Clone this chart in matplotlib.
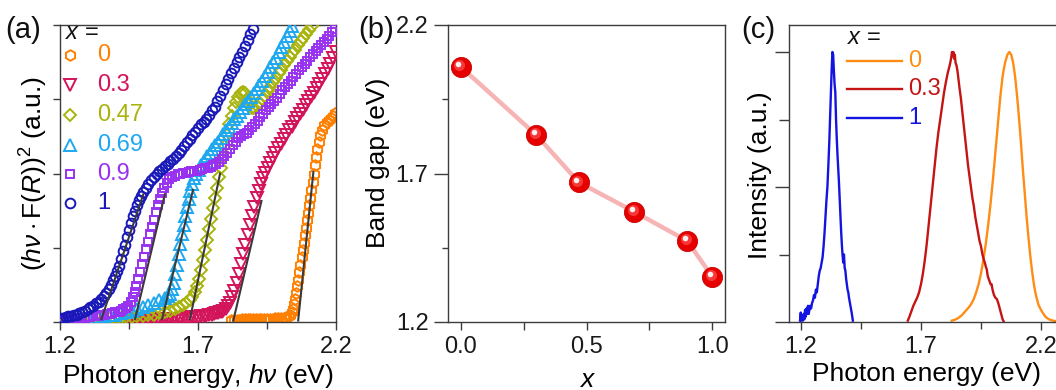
import matplotlib
matplotlib.use('Agg')
import matplotlib.pyplot as plt
from matplotlib.transforms import offset_copy

plt.rcParams['font.family'] = ['Liberation Sans', 'DejaVu Sans']
plt.rcParams['mathtext.fontset'] = 'custom'
plt.rcParams['mathtext.rm'] = 'Liberation Sans'
plt.rcParams['mathtext.it'] = 'Liberation Sans:italic'

# ---------------- Panel (a) data: (h nu F(R))^2 vs photon energy ----------------
x_labels = ['0', '0.3', '0.47', '0.69', '0.9', '1']

E_x0 = [1.820, 1.830, 1.840, 1.850, 1.860, 1.870, 1.880, 1.890, 1.900, 1.910, 1.920, 1.930,
        1.940, 1.950, 1.960, 1.970, 1.980, 1.990, 2.000, 2.010, 2.020, 2.028, 2.034, 2.039,
        2.043, 2.047, 2.051, 2.055, 2.059, 2.063, 2.067, 2.071, 2.075, 2.079, 2.083, 2.087,
        2.091, 2.095, 2.099, 2.103, 2.107, 2.111, 2.115, 2.119, 2.123, 2.127, 2.132, 2.137,
        2.143, 2.150, 2.158, 2.166, 2.174, 2.182, 2.190, 2.198]
A_x0 = [0.03, 0.03, 0.03, 0.03, 0.035, 0.035, 0.035, 0.035, 0.04, 0.04, 0.04, 0.04,
        0.04, 0.045, 0.045, 0.045, 0.05, 0.05, 0.055, 0.06, 0.07, 0.08, 0.10, 0.13,
        0.18, 0.24, 0.31, 0.39, 0.48, 0.57, 0.67, 0.77, 0.87, 0.97, 1.07, 1.17,
        1.27, 1.37, 1.47, 1.57, 1.67, 1.78, 1.89, 2.00, 2.11, 2.22, 2.33, 2.43,
        2.52, 2.59, 2.65, 2.69, 2.72, 2.75, 2.78, 2.82]

E_x03 = [1.450, 1.460, 1.470, 1.480, 1.490, 1.500, 1.510, 1.520, 1.530, 1.540, 1.550, 1.560,
         1.570, 1.580, 1.590, 1.600, 1.610, 1.620, 1.630, 1.640, 1.650, 1.660, 1.670, 1.680,
         1.690, 1.700, 1.710, 1.720, 1.730, 1.740, 1.750, 1.758, 1.765, 1.772, 1.780, 1.786,
         1.792, 1.800, 1.808, 1.816, 1.824, 1.832, 1.840, 1.848, 1.856, 1.864, 1.872, 1.880,
         1.888, 1.896, 1.904, 1.912, 1.920, 1.928, 1.936, 1.944, 1.952, 1.960, 1.970, 1.980,
         1.990, 2.000, 2.010, 2.020, 2.030, 2.040, 2.050, 2.060, 2.070, 2.080, 2.090, 2.100,
         2.110, 2.120, 2.130, 2.140, 2.150, 2.160, 2.170, 2.180, 2.190, 2.200]
A_x03 = [0.02, 0.02, 0.02, 0.022, 0.025, 0.025, 0.025, 0.027, 0.03, 0.03, 0.03, 0.032,
         0.035, 0.037, 0.04, 0.04, 0.04, 0.042, 0.045, 0.047, 0.05, 0.055, 0.06, 0.062,
         0.065, 0.07, 0.075, 0.08, 0.085, 0.09, 0.10, 0.107, 0.115, 0.122, 0.13, 0.14,
         0.15, 0.17, 0.21, 0.26, 0.33, 0.42, 0.53, 0.65, 0.78, 0.91, 1.04, 1.17,
         1.30, 1.43, 1.55, 1.67, 1.77, 1.86, 1.94, 2.01, 2.08, 2.14, 2.21, 2.28,
         2.34, 2.40, 2.46, 2.52, 2.58, 2.63, 2.69, 2.75, 2.80, 2.86, 2.92, 2.97,
         3.03, 3.09, 3.15, 3.21, 3.27, 3.34, 3.41, 3.48, 3.56, 3.64]

E_x047 = [1.200, 1.220, 1.240, 1.260, 1.280, 1.300, 1.320, 1.340, 1.360, 1.380, 1.400, 1.420,
          1.440, 1.460, 1.480, 1.500, 1.520, 1.540, 1.560, 1.580, 1.600, 1.615, 1.630, 1.645,
          1.658, 1.670, 1.680, 1.690, 1.698, 1.705, 1.712, 1.719, 1.726, 1.733, 1.740, 1.747,
          1.754, 1.761, 1.768, 1.775, 1.782, 1.790, 1.798, 1.806, 1.814, 1.822, 1.830, 1.838,
          1.846, 1.854, 1.862, 1.870, 1.878, 1.886, 1.894, 1.902, 1.912, 1.922, 1.932, 1.942,
          1.952, 1.962, 1.972, 1.982, 1.992, 2.002, 2.012, 2.022, 2.032, 2.042, 2.052, 2.062,
          2.072, 2.082, 2.092, 2.102, 2.112]
A_x047 = [0.01, 0.015, 0.02, 0.025, 0.03, 0.035, 0.04, 0.045, 0.05, 0.05, 0.055, 0.06,
          0.065, 0.07, 0.08, 0.085, 0.09, 0.10, 0.12, 0.135, 0.15, 0.17, 0.20, 0.23,
          0.26, 0.30, 0.34, 0.40, 0.48, 0.58, 0.70, 0.83, 0.97, 1.11, 1.25, 1.39,
          1.53, 1.67, 1.81, 1.95, 2.08, 2.22, 2.37, 2.52, 2.66, 2.78, 2.88, 2.96,
          3.03, 3.08, 3.10, 3.08, 3.00, 2.92, 2.88, 2.88, 2.91, 2.95, 3.00, 3.05,
          3.11, 3.17, 3.23, 3.29, 3.35, 3.40, 3.46, 3.52, 3.57, 3.62, 3.67, 3.73,
          3.78, 3.83, 3.88, 3.93, 3.98]

E_x069 = [1.200, 1.220, 1.240, 1.260, 1.280, 1.300, 1.320, 1.340, 1.360, 1.380, 1.400, 1.420,
          1.440, 1.460, 1.480, 1.500, 1.520, 1.540, 1.560, 1.580, 1.593, 1.600, 1.606, 1.612,
          1.618, 1.624, 1.630, 1.636, 1.642, 1.648, 1.654, 1.660, 1.666, 1.672, 1.678, 1.685,
          1.693, 1.702, 1.712, 1.722, 1.732, 1.742, 1.752, 1.762, 1.772, 1.782, 1.792, 1.802,
          1.812, 1.822, 1.832, 1.842, 1.852, 1.862, 1.872, 1.882, 1.892, 1.902, 1.912, 1.922,
          1.932, 1.942, 1.952, 1.962, 1.972, 1.982, 1.992, 2.002, 2.012, 2.022, 2.032, 2.040]
A_x069 = [0.03, 0.035, 0.04, 0.045, 0.05, 0.06, 0.065, 0.07, 0.08, 0.09, 0.10, 0.115,
          0.13, 0.15, 0.17, 0.20, 0.23, 0.26, 0.29, 0.32, 0.35, 0.38, 0.44, 0.53,
          0.64, 0.77, 0.91, 1.05, 1.18, 1.31, 1.43, 1.55, 1.66, 1.77, 1.86, 1.94,
          2.00, 2.05, 2.11, 2.17, 2.23, 2.28, 2.33, 2.38, 2.43, 2.48, 2.53, 2.58,
          2.63, 2.68, 2.73, 2.78, 2.83, 2.88, 2.93, 2.98, 3.03, 3.08, 3.14, 3.19,
          3.25, 3.31, 3.37, 3.43, 3.50, 3.56, 3.63, 3.70, 3.77, 3.85, 3.92, 3.99]

E_x09 = [1.200, 1.210, 1.220, 1.230, 1.240, 1.250, 1.260, 1.270, 1.280, 1.290, 1.300, 1.310,
         1.320, 1.330, 1.340, 1.350, 1.360, 1.370, 1.380, 1.390, 1.400, 1.410, 1.420, 1.430,
         1.440, 1.448, 1.456, 1.463, 1.470, 1.477, 1.484, 1.491, 1.498, 1.505, 1.512, 1.519,
         1.526, 1.533, 1.540, 1.547, 1.554, 1.561, 1.569, 1.577, 1.586, 1.596, 1.606, 1.616,
         1.626, 1.636, 1.646, 1.656, 1.666, 1.676, 1.686, 1.696, 1.706, 1.716, 1.726, 1.736,
         1.746, 1.756, 1.766, 1.776, 1.786, 1.796, 1.806, 1.816, 1.826, 1.836, 1.846, 1.856,
         1.866, 1.876, 1.886, 1.896, 1.906, 1.916, 1.926, 1.936, 1.946, 1.956, 1.966, 1.976,
         1.986, 1.996, 2.006, 2.016, 2.026, 2.036, 2.046, 2.056, 2.066, 2.076, 2.086, 2.096,
         2.106, 2.116, 2.126, 2.136, 2.146, 2.156, 2.166, 2.176, 2.186, 2.196]
A_x09 = [0.02, 0.025, 0.03, 0.035, 0.04, 0.045, 0.05, 0.05, 0.055, 0.06, 0.065, 0.07,
         0.075, 0.08, 0.085, 0.09, 0.10, 0.105, 0.11, 0.12, 0.13, 0.14, 0.15, 0.17,
         0.19, 0.22, 0.27, 0.33, 0.40, 0.49, 0.58, 0.68, 0.78, 0.88, 0.98, 1.08,
         1.18, 1.28, 1.38, 1.48, 1.57, 1.66, 1.74, 1.81, 1.87, 1.92, 1.95, 1.97,
         1.99, 2.00, 2.01, 2.01, 2.02, 2.03, 2.03, 2.04, 2.05, 2.06, 2.07, 2.08,
         2.09, 2.11, 2.13, 2.16, 2.20, 2.24, 2.28, 2.33, 2.38, 2.43, 2.48, 2.51,
         2.53, 2.55, 2.58, 2.62, 2.66, 2.71, 2.76, 2.80, 2.85, 2.89, 2.94, 2.98,
         3.02, 3.07, 3.12, 3.16, 3.21, 3.25, 3.30, 3.34, 3.39, 3.43, 3.48, 3.52,
         3.57, 3.61, 3.65, 3.69, 3.73, 3.77, 3.81, 3.85, 3.90, 3.95]

E_x1 = [1.200, 1.210, 1.220, 1.230, 1.240, 1.250, 1.260, 1.270, 1.280, 1.290, 1.300, 1.310,
        1.320, 1.330, 1.340, 1.350, 1.360, 1.368, 1.376, 1.384, 1.392, 1.400, 1.407, 1.414,
        1.421, 1.428, 1.435, 1.442, 1.449, 1.456, 1.463, 1.470, 1.478, 1.486, 1.494, 1.502,
        1.511, 1.520, 1.530, 1.540, 1.550, 1.560, 1.570, 1.580, 1.590, 1.600, 1.610, 1.620,
        1.630, 1.640, 1.650, 1.660, 1.670, 1.680, 1.690, 1.700, 1.710, 1.720, 1.730, 1.740,
        1.750, 1.760, 1.770, 1.780, 1.790, 1.800, 1.810, 1.820, 1.830, 1.840, 1.850, 1.860,
        1.870, 1.880, 1.890, 1.900]
A_x1 = [0.05, 0.06, 0.07, 0.08, 0.085, 0.09, 0.10, 0.12, 0.13, 0.15, 0.17, 0.20,
        0.22, 0.25, 0.27, 0.31, 0.35, 0.39, 0.44, 0.50, 0.56, 0.62, 0.69, 0.76,
        0.85, 0.95, 1.04, 1.14, 1.24, 1.34, 1.43, 1.50, 1.57, 1.64, 1.70, 1.75,
        1.80, 1.86, 1.91, 1.95, 1.99, 2.03, 2.06, 2.10, 2.13, 2.17, 2.20, 2.24,
        2.28, 2.32, 2.37, 2.42, 2.47, 2.52, 2.56, 2.61, 2.66, 2.70, 2.74, 2.79,
        2.85, 2.90, 2.97, 3.04, 3.12, 3.20, 3.27, 3.35, 3.42, 3.50, 3.57, 3.64,
        3.72, 3.80, 3.88, 3.95]

# linear fits (extrapolated to the energy axis)
fit_E_low = [2.063, 1.828, 1.671, 1.570, 1.472, 1.350]
fit_A_low = [0.02, 0.02, 0.04, 0.04, 0.04, 0.04]
fit_E_high = [2.118, 1.930, 1.780, 1.682, 1.580, 1.502]
fit_A_high = [2.02, 1.63, 2.00, 1.78, 1.72, 1.72]

# ---------------- Panel (b) data: band gap vs x ----------------
x_comp = [0.0, 0.3, 0.47, 0.69, 0.9, 1.0]
band_gap = [2.06, 1.83, 1.67, 1.571, 1.473, 1.352]

# ---------------- Panel (c) data: PL spectra ----------------
pl_labels = ['0', '0.3', '1']
pl_E_x0 = [1.828, 1.840, 1.850, 1.860, 1.870, 1.880, 1.890, 1.900, 1.910, 1.920, 1.930, 1.940,
           1.950, 1.960, 1.970, 1.980, 1.990, 2.000, 2.010, 2.020, 2.030, 2.040, 2.050, 2.060,
           2.068, 2.076, 2.084, 2.092, 2.100, 2.108, 2.116, 2.124, 2.132, 2.140, 2.148, 2.156,
           2.164, 2.172, 2.180, 2.190, 2.200, 2.210, 2.220, 2.235, 2.250, 2.265]
pl_I_x0 = [0.005, 0.008, 0.012, 0.018, 0.025, 0.035, 0.045, 0.055, 0.068, 0.085, 0.11, 0.14,
           0.18, 0.23, 0.29, 0.36, 0.44, 0.53, 0.63, 0.73, 0.83, 0.91, 0.96, 0.99,
           1.00, 0.99, 0.96, 0.91, 0.84, 0.76, 0.67, 0.57, 0.48, 0.39, 0.31, 0.24,
           0.18, 0.13, 0.095, 0.062, 0.045, 0.03, 0.018, 0.009, 0.005, 0.003]

pl_E_x03 = [1.645, 1.652, 1.660, 1.668, 1.676, 1.684, 1.692, 1.700, 1.708, 1.716, 1.724, 1.732,
            1.740, 1.748, 1.756, 1.764, 1.772, 1.780, 1.788, 1.796, 1.804, 1.812, 1.818, 1.822,
            1.826, 1.829, 1.832, 1.835, 1.838, 1.841, 1.844, 1.848, 1.852, 1.856, 1.860, 1.866,
            1.872, 1.878, 1.884, 1.890, 1.896, 1.902, 1.908, 1.914, 1.920, 1.926, 1.932, 1.938,
            1.944, 1.950, 1.956, 1.962, 1.966, 1.970, 1.974, 1.978, 1.982, 1.986, 1.990, 1.994,
            1.998, 2.004, 2.010, 2.016, 2.022, 2.028, 2.034, 2.040, 2.044]
pl_I_x03 = [0.005, 0.02, 0.04, 0.06, 0.075, 0.09, 0.11, 0.14, 0.18, 0.23, 0.29, 0.36,
            0.43, 0.50, 0.57, 0.64, 0.70, 0.75, 0.80, 0.85, 0.89, 0.925, 0.945, 0.96,
            0.98, 1.00, 0.985, 1.00, 0.975, 0.99, 0.96, 0.95, 0.93, 0.90, 0.87, 0.83,
            0.78, 0.73, 0.68, 0.63, 0.58, 0.54, 0.50, 0.46, 0.43, 0.39, 0.36, 0.33,
            0.30, 0.28, 0.25, 0.23, 0.22, 0.205, 0.195, 0.17, 0.16, 0.15, 0.14, 0.14,
            0.12, 0.10, 0.09, 0.085, 0.07, 0.05, 0.03, 0.01, 0.003]

pl_E_x1 = [1.196, 1.199, 1.201, 1.205, 1.208, 1.211, 1.214, 1.217, 1.220, 1.223, 1.226, 1.229,
           1.232, 1.235, 1.238, 1.242, 1.246, 1.250, 1.254, 1.258, 1.262, 1.266, 1.270, 1.274,
           1.278, 1.282, 1.286, 1.290, 1.294, 1.298, 1.302, 1.306, 1.310, 1.314, 1.318, 1.322,
           1.325, 1.328, 1.331, 1.334, 1.337, 1.340, 1.343, 1.346, 1.349, 1.352, 1.355, 1.358,
           1.361, 1.364, 1.367, 1.370, 1.373, 1.376, 1.379, 1.382, 1.385, 1.388, 1.391, 1.394,
           1.397, 1.400, 1.404, 1.408, 1.412, 1.416]
pl_I_x1 = [0.005, 0.035, 0.005, 0.01, 0.005, 0.03, 0.01, 0.045, 0.02, 0.05, 0.03, 0.06,
           0.03, 0.045, 0.06, 0.05, 0.07, 0.08, 0.10, 0.09, 0.12, 0.11, 0.14, 0.17,
           0.19, 0.20, 0.22, 0.24, 0.28, 0.33, 0.39, 0.45, 0.50, 0.58, 0.67, 0.78,
           0.86, 0.94, 1.00, 0.99, 0.93, 0.88, 0.85, 0.75, 0.68, 0.62, 0.57, 0.52,
           0.46, 0.40, 0.34, 0.29, 0.25, 0.22, 0.25, 0.20, 0.19, 0.16, 0.14, 0.12,
           0.11, 0.09, 0.07, 0.05, 0.03, 0.005]

# ---------------- styling ----------------
W, H = 1056, 390
col_a = ['#FF8000', '#D3145A', '#A8B40C', '#1EA8F0', '#9932F0', '#1818B8']
mk_a = ['h', 'v', 'D', '^', 's', 'o']
ms_a = [7.6, 8.2, 6.6, 8.2, 6.4, 7.0]
col_c = ['#FF8C14', '#C41414', '#1414E0']
spine_col = '#3C3C3C'
TICK_FS = 17
LAB_FS = 19
LEG_FS = 17

fig = plt.figure(figsize=(W / 100, H / 100), dpi=100)
axA = fig.add_axes([60 / W, 68 / H, 276 / W, 297 / H])
axB = fig.add_axes([448 / W, 68 / H, 277 / W, 297 / H])
axC = fig.add_axes([789 / W, 68 / H, 288 / W, 297 / H])

for ax in (axA, axB, axC):
    for s in ax.spines.values():
        s.set_color(spine_col)
        s.set_linewidth(1.0)
    ax.tick_params(which='both', direction='out', color=spine_col, width=1.0,
                   labelsize=TICK_FS, labelcolor='#1a1a1a', pad=4)

# ---- panel (a)
series_E = [E_x0, E_x03, E_x047, E_x069, E_x09, E_x1]
series_A = [A_x0, A_x03, A_x047, A_x069, A_x09, A_x1]
for i in range(6):
    axA.plot(series_E[i], series_A[i], linestyle='none', marker=mk_a[i], ms=ms_a[i],
             mfc='none', mec=col_a[i], mew=1.4, zorder=2 + i)
for i in range(6):
    axA.plot([fit_E_low[i], fit_E_high[i]], [fit_A_low[i], fit_A_high[i]],
             color='#3a3a3a', lw=1.5, zorder=10)
axA.set_xlim(1.2, 2.2)
axA.set_ylim(0, 4)
axA.set_xticks([1.2, 1.7, 2.2])
axA.set_xticklabels(['1.2', '1.7', '2.2'])
axA.set_xticks([1.45, 1.95], minor=True)
axA.set_yticks([0, 1, 2, 3, 4])
axA.set_yticklabels([])
axA.tick_params(axis='x', which='major', length=6)
axA.tick_params(axis='x', which='minor', length=5)
axA.tick_params(axis='y', which='major', length=5)
axA.set_xlabel(r'Photon energy, $h\nu$ (eV)', fontsize=LAB_FS)
axA.xaxis.set_label_coords(0.5, -0.135)
axA.set_ylabel(r'$(h\nu\cdot$F($R$))$^2$ (a.u.)', fontsize=LAB_FS)
axA.yaxis.set_label_coords(-0.036, 0.5)

# legend (a)
axA.text(0.018, 0.972, r'$x$ =', transform=axA.transAxes, fontsize=LEG_FS,
         ha='left', va='center', color='#111111')
leg_y = [0.898, 0.799, 0.697, 0.596, 0.500, 0.400]
for i in range(6):
    axA.plot([0.038], [leg_y[i]], transform=axA.transAxes, linestyle='none',
             marker=mk_a[i], ms=ms_a[i], mfc='none', mec=col_a[i], mew=1.4, clip_on=False)
    axA.text(0.134, leg_y[i], x_labels[i], transform=axA.transAxes, fontsize=LEG_FS,
             color=col_a[i], ha='left', va='center')

# ---- panel (b)
axB.plot(x_comp, band_gap, color='#F7B4B4', lw=3.2, zorder=2, solid_capstyle='round')
axB.plot(x_comp, band_gap, linestyle='none', marker='o', ms=14.5, mfc='#E60000',
         mec='#C80000', mew=0.6, zorder=3)
axB.plot(x_comp, band_gap, linestyle='none', marker='o', ms=8, mfc='#FF5050', mec='none',
         alpha=0.7, zorder=4, transform=offset_copy(axB.transData, fig=fig, x=-1.5, y=1.5, units='dots'))
axB.plot(x_comp, band_gap, linestyle='none', marker='o', ms=4, mfc='#FFF0F0', mec='none',
         zorder=5, transform=offset_copy(axB.transData, fig=fig, x=-2.5, y=2.5, units='dots'))
axB.set_xlim(-0.05, 1.05)
axB.set_ylim(1.2, 2.2)
axB.set_xticks([0.0, 0.5, 1.0])
axB.set_xticklabels(['0.0', '0.5', '1.0'])
axB.set_xticks([0.25, 0.75], minor=True)
axB.set_yticks([1.2, 1.7, 2.2])
axB.set_yticklabels(['1.2', '1.7', '2.2'])
axB.set_yticks([1.45, 1.95], minor=True)
axB.tick_params(axis='x', which='both', length=6)
axB.tick_params(axis='y', which='major', length=10)
axB.tick_params(axis='y', which='minor', length=4)
axB.set_ylabel('Band gap (eV)', fontsize=LAB_FS)
axB.yaxis.set_label_coords(-0.209, 0.535)
axB.set_xlabel(r'$x$', fontsize=LAB_FS)
axB.xaxis.set_label_coords(0.505, -0.155)

# ---- panel (c)
pl_E = [pl_E_x0, pl_E_x03, pl_E_x1]
pl_I = [pl_I_x0, pl_I_x03, pl_I_x1]
for i in range(3):
    axC.plot(pl_E[i], pl_I[i], color=col_c[i], lw=1.7)
axC.set_xlim(1.15, 2.35)
axC.set_ylim(0, 1.1)
axC.set_xticks([1.2, 1.7, 2.2])
axC.set_xticklabels(['1.2', '1.7', '2.2'])
axC.set_xticks([1.45, 1.95], minor=True)
axC.set_yticks([0, 0.5, 1.0])
axC.set_yticklabels([])
axC.set_yticks([0.25, 0.75], minor=True)
axC.tick_params(axis='x', which='major', length=6)
axC.tick_params(axis='x', which='minor', length=5)
axC.tick_params(axis='y', which='major', length=10)
axC.tick_params(axis='y', which='minor', length=7)
axC.spines['right'].set_visible(False)
axC.set_xlabel('Photon energy (eV)', fontsize=LAB_FS)
axC.xaxis.set_label_coords(0.476, -0.135)
axC.set_ylabel('Intensity (a.u.)', fontsize=LAB_FS)
axC.yaxis.set_label_coords(-0.059, 0.495)

axC.text(0.201, 0.955, r'$x$ =', transform=axC.transAxes, fontsize=LEG_FS,
         ha='left', va='center', color='#111111')
legc_y = [0.879, 0.785, 0.687]
for i in range(3):
    axC.plot([0.201, 0.392], [legc_y[i], legc_y[i]], transform=axC.transAxes,
             color=col_c[i], lw=1.7, clip_on=False)
    axC.text(0.413, legc_y[i], pl_labels[i], transform=axC.transAxes, fontsize=LEG_FS,
             color=col_c[i], ha='left', va='center')

# panel labels
for xp, lab in [(5, '(a)'), (358, '(b)'), (741, '(c)')]:
    fig.text(xp / W, 1 - 30 / H, lab, fontsize=21, ha='left', va='center', color='#111111')

fig.savefig('out.png', dpi=100)
